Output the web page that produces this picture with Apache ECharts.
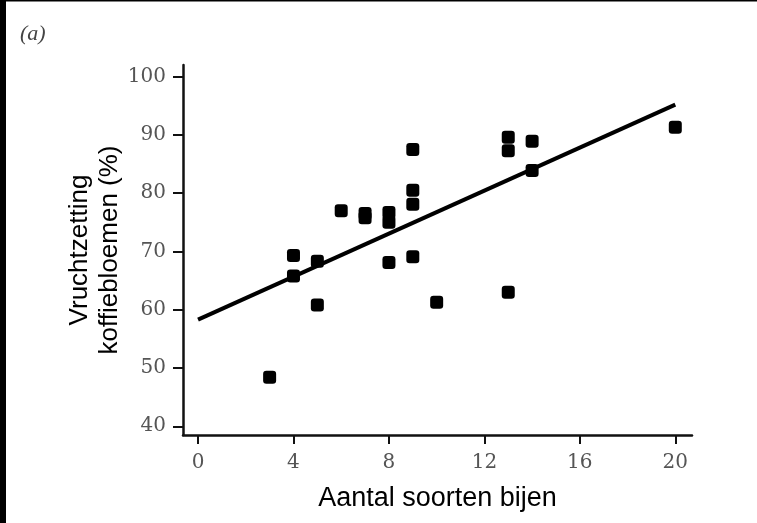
<!DOCTYPE html>
<html>
<head>
<meta charset="utf-8">
<script src="https://cdn.jsdelivr.net/npm/echarts@6/dist/echarts.min.js"></script>
<style>
html,body{margin:0;padding:0;background:#fff;}
#chart{width:757px;height:523px;}
</style>
</head>
<body>
<div id="chart"></div>
<script>
var panelLabel = '(a)';
var xTitle = 'Aantal soorten bijen';
var yTitle = 'Vruchtzetting\nkoffiebloemen (%)';
var xTicks = [0, 4, 8, 12, 16, 20];
var yTicks = [40, 50, 60, 70, 80, 90, 100];
var beeSpecies = [3, 4, 4, 5, 5, 6, 7, 7, 8, 8, 8, 9, 9, 9, 9, 10, 13, 13, 13, 14, 14, 20];
var fruitSet = [48.4, 69.3, 65.8, 68.3, 60.8, 77.0, 76.5, 75.8, 76.7, 75.0, 68.1, 87.5, 80.5, 78.1, 69.1, 61.3, 89.6, 87.3, 63.0, 88.9, 83.9, 91.3];
var fitX = [0, 20];
var fitY = [58.3, 95.2];

var points = beeSpecies.map(function (x, i) { return [x, fruitSet[i]]; });
var fitLine = fitX.map(function (x, i) { return [x, fitY[i]]; });

var chart = echarts.init(document.getElementById('chart'));
chart.setOption({
  backgroundColor: '#fff',
  animation: false,
  grid: { left: 183, top: 65, width: 509, height: 370, containLabel: false },
  xAxis: {
    type: 'value', min: -0.63, max: 20.7,
    splitLine: { show: false },
    axisLine: { show: true, onZero: false, lineStyle: { color: '#111', width: 2.5 } },
    axisTick: { show: true, customValues: xTicks, length: 9, inside: false, lineStyle: { color: '#111', width: 2 } },
    axisLabel: { customValues: xTicks, margin: 18, fontFamily: 'DejaVu Serif', fontSize: 20, color: '#555' },
    name: xTitle, nameLocation: 'middle', nameGap: 50,
    nameTextStyle: { fontFamily: 'Liberation Sans', fontSize: 27, color: '#000' }
  },
  yAxis: {
    type: 'value', min: 38.5, max: 102,
    splitLine: { show: false },
    axisLine: { show: true, onZero: false, lineStyle: { color: '#111', width: 2.5 } },
    axisTick: { show: true, customValues: yTicks, length: 10, inside: false, lineStyle: { color: '#111', width: 2 } },
    axisLabel: { customValues: yTicks, margin: 17, fontFamily: 'DejaVu Serif', fontSize: 20, color: '#555' },
    name: yTitle, nameLocation: 'middle', nameGap: 58, nameRotate: 90, nameMoveOverlap: false,
    nameTextStyle: { fontFamily: 'Liberation Sans', fontSize: 26, color: '#000', lineHeight: 30, align: 'center' }
  },
  graphic: [
    { type: 'rect', left: 0, top: 0, shape: { width: 6, height: 523 }, style: { fill: '#000' } },
    { type: 'rect', left: 0, top: 0, shape: { width: 757, height: 1.5 }, style: { fill: '#000' } },
    { type: 'text', left: 20, top: 23, style: { text: panelLabel, font: 'italic 22px "Liberation Serif"', fill: '#444' } }
  ],
  series: [
    {
      type: 'line', data: fitLine, showSymbol: false, symbol: 'none',
      lineStyle: { color: '#000', width: 4 }, z: 2
    },
    {
      type: 'scatter', data: points, symbol: 'roundRect', symbolSize: 13,
      itemStyle: { color: '#000', opacity: 1 }, z: 3
    }
  ]
});
</script>
</body>
</html>
